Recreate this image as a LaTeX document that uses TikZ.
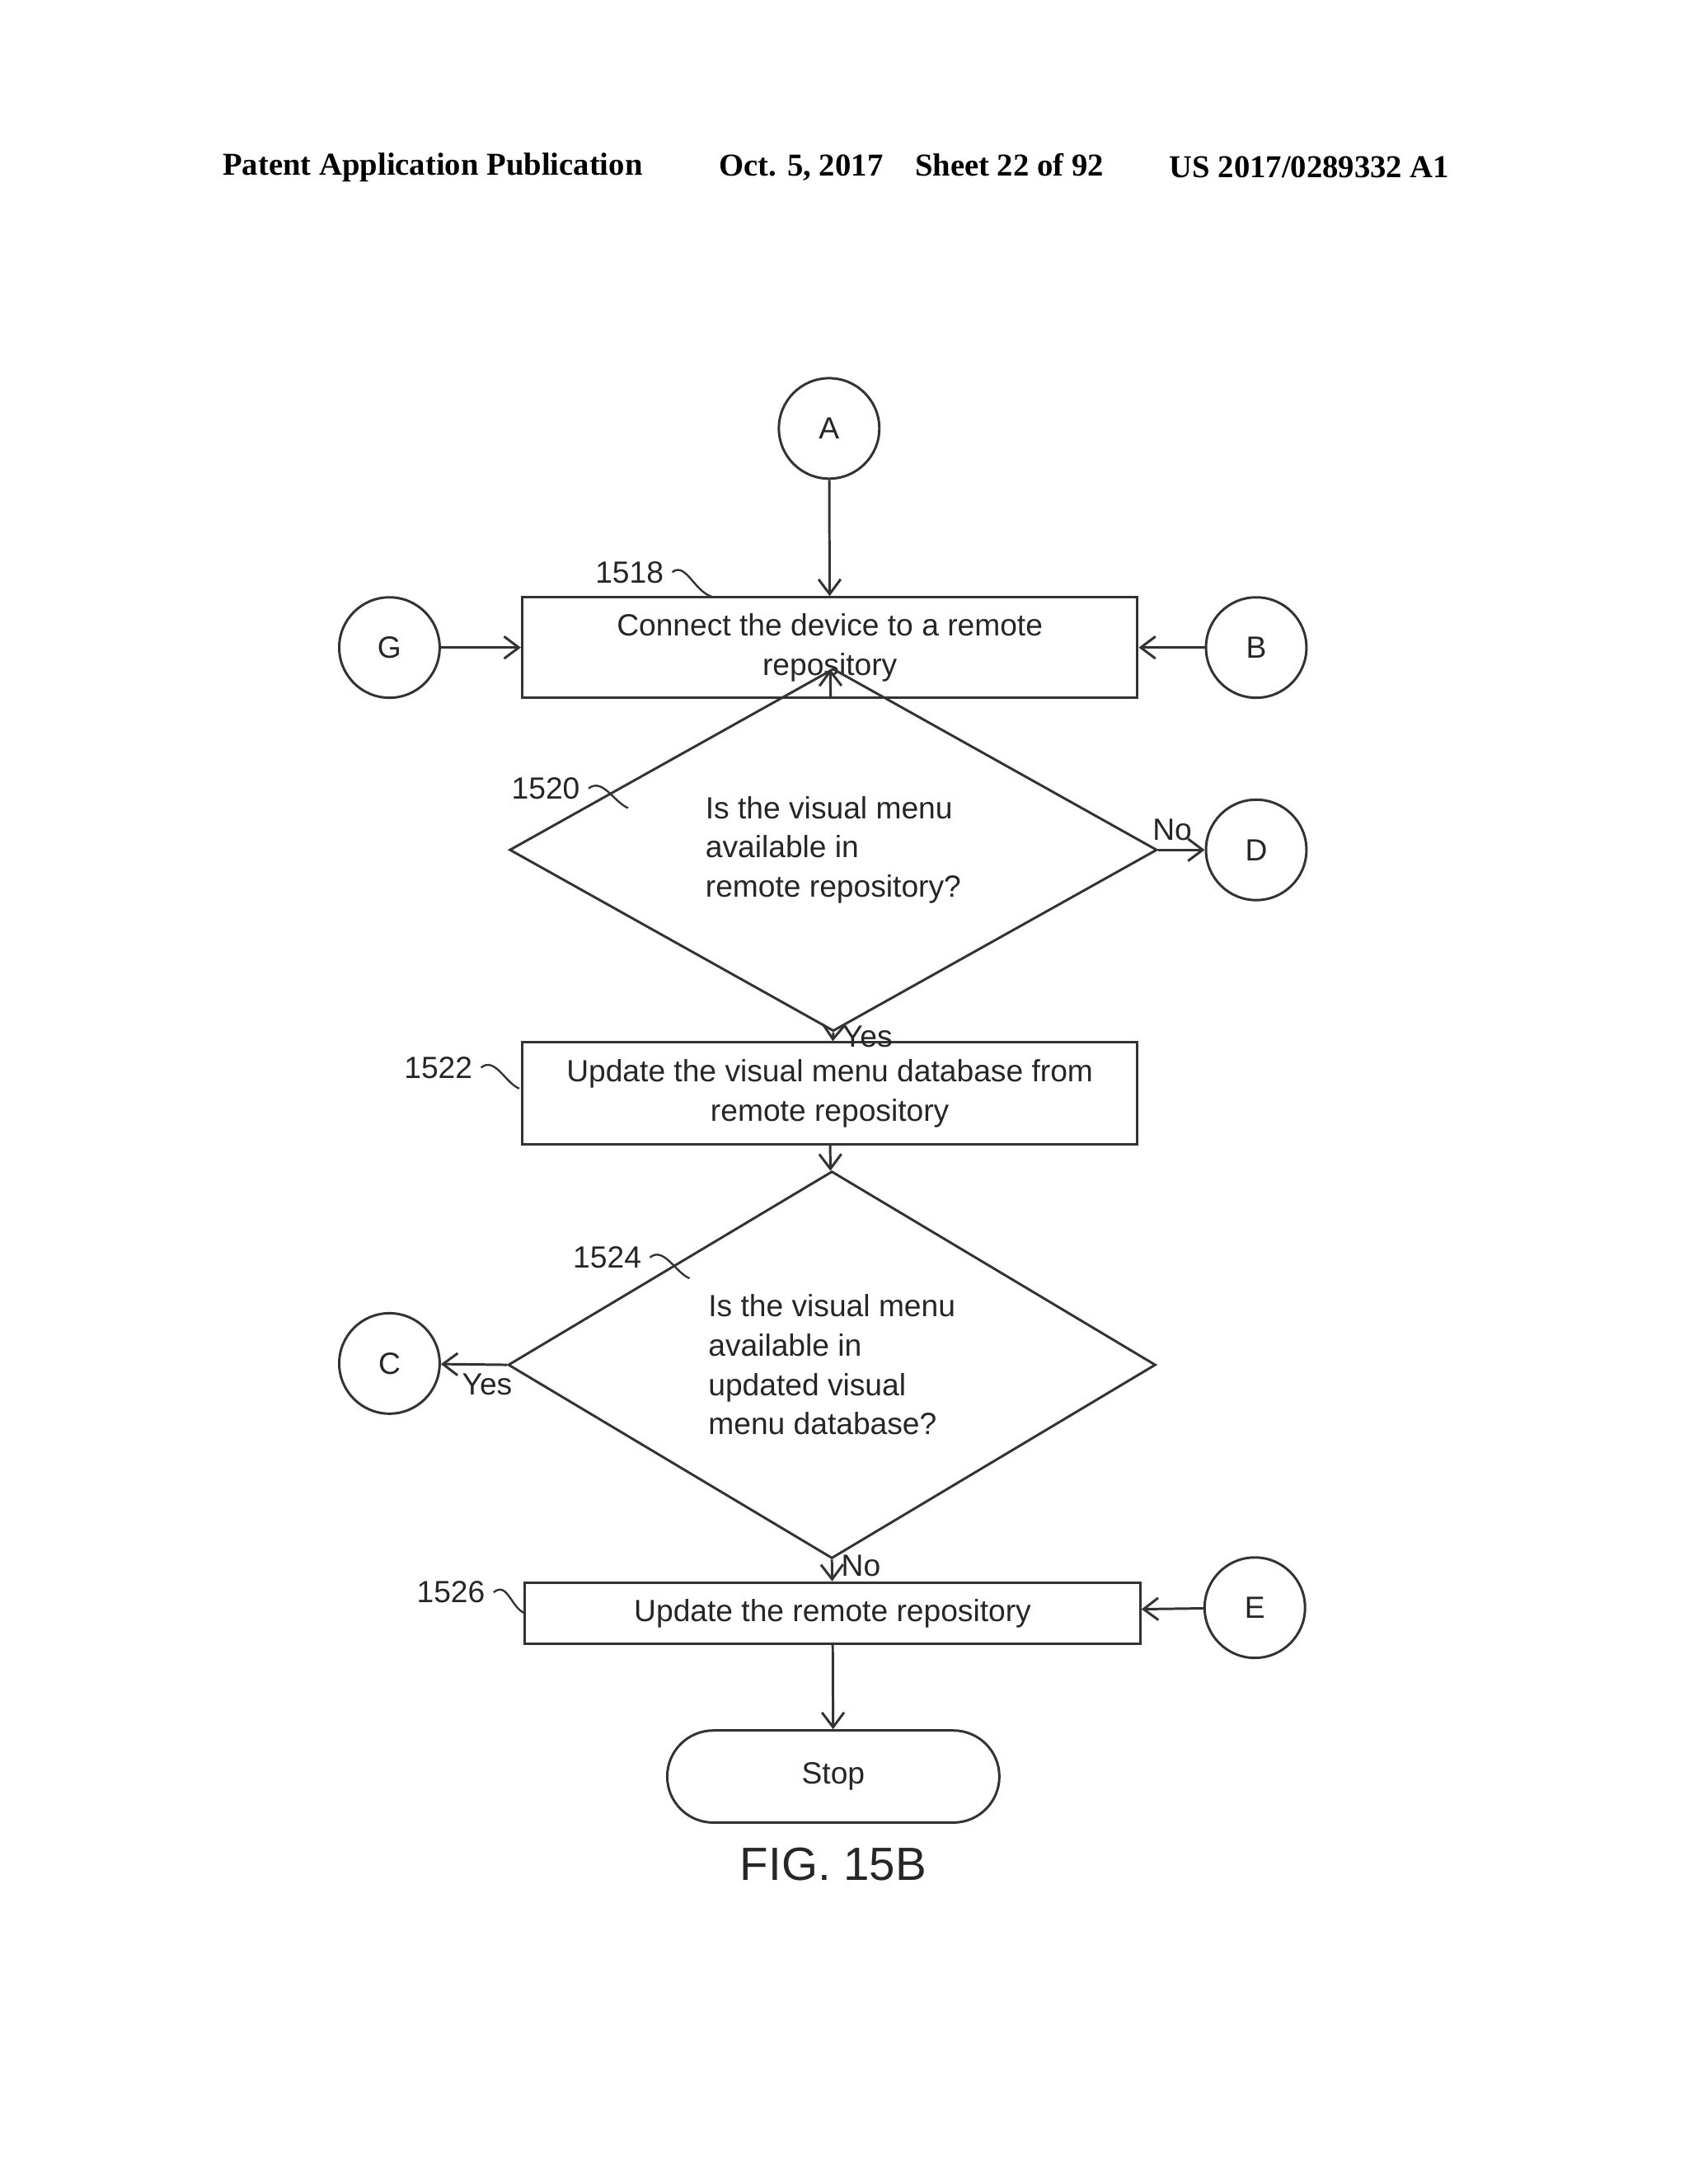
\documentclass[tikz,border=0pt]{standalone}
\usepackage{fontspec}
\setmainfont{Liberation Sans}
\newfontfamily\hdr{Liberation Serif}
\usetikzlibrary{shapes.geometric,arrows.meta}
\begin{document}
\begin{tikzpicture}[x=0.02cm,y=-0.02cm,
  every node/.style={font=\fontsize{12.5}{16}\selectfont, text=black!85},
  conn/.style={circle, draw=black!80, line width=1pt, minimum size=1.44cm, inner sep=0pt},
  box/.style={rectangle, draw=black!80, line width=1pt, minimum width=8.82cm, align=center, inner sep=0pt},
  dec/.style={diamond, draw=black!80, line width=1pt, align=left, inner sep=0pt},
  arr/.style={draw=black!80, line width=1pt, -{Straight Barb[length=6pt,width=9pt]}},
  tag/.style={draw=black!80, line width=0.8pt},
  lbl/.style={font=\fontsize{12.5}{14}\selectfont}]
\useasboundingbox (0,0) rectangle (1210,1565);
% header
\node[font=\hdr\bfseries\fontsize{13}{15}\selectfont, text=black] (h1) at (310,120) {Patent Application Publication};
\node[font=\hdr\bfseries\fontsize{13}{15}\selectfont, text=black] (h2) at (653,120) {Oct. 5, 2017\quad Sheet 22 of 92};
\node[font=\hdr\bfseries\fontsize{13}{15}\selectfont, text=black] (h3) at (938,120) {US 2017/0289332 A1};
% nodes
\node[conn] (A) at (594,307) {A};
\node[box, minimum height=1.44cm] (b1518) at (594.5,464) {Connect the device to a remote\\repository};
\node[conn] (G) at (279,464) {G};
\node[conn] (B) at (900,464) {B};
\node[dec, minimum width=9.28cm, minimum height=3.24cm] (d1520) at (597,609) {Is the visual menu\\available in\\remote repository?};
\node[conn] (D) at (900,609) {D};
\node[box, minimum height=1.46cm] (b1522) at (594.5,783.5) {Update the visual menu database from\\remote repository};
\node[dec, minimum width=9.28cm, minimum height=4.4cm] (d1524) at (596,978) {Is the visual menu\\available in\\updated visual\\menu database?};
\node[conn] (C) at (279,977) {C};
\node[box, minimum height=0.88cm] (b1526) at (596.5,1156) {Update the remote repository};
\node[conn] (E) at (899,1152) {E};
\node[rectangle, draw=black!80, line width=1pt, rounded corners=0.66cm, minimum width=4.76cm, minimum height=1.32cm] (stop) at (597,1273) {Stop};
\node[font=\fontsize{19}{22}\selectfont] (fig) at (597,1336) {FIG. 15B};
% connectors
\draw[arr] (A) -- (b1518);
\draw[arr] (G) -- (b1518);
\draw[arr] (B) -- (b1518);
\draw[arr] (b1518) -- (d1520);
\draw[arr] (d1520.east) -- node[above, pos=0.3] {No} (D);
\draw[arr] (d1520.south) -- node[right, pos=0.45] {Yes} (b1522);
\draw[arr] (b1522) -- (d1524);
\draw[arr] (d1524.west) -- node[below, pos=0.3] {Yes} (C);
\draw[arr] (d1524.south) -- node[right, pos=0.3] {No} (b1526);
\draw[arr] (E) -- (b1526);
\draw[arr] (b1526) -- (stop);
% reference numerals
\node[lbl] (n1518) at (451,410) {1518};
\coordinate (t1518) at (512,428);
\draw[tag] (n1518.east) .. controls +(10,-8) and +(-14,-2) .. (t1518);
\node[lbl] (n1520) at (391,565) {1520};
\coordinate (t1520) at (450,579);
\draw[tag] (n1520.east) .. controls +(10,-8) and +(-10,-4) .. (t1520);
\node[lbl] (n1522) at (314,765) {1522};
\coordinate (t1522) at (372,780);
\draw[tag] (n1522.east) .. controls +(10,-8) and +(-10,-4) .. (t1522);
\node[lbl] (n1524) at (435,901) {1524};
\coordinate (t1524) at (494,916);
\draw[tag] (n1524.east) .. controls +(10,-8) and +(-10,-4) .. (t1524);
\node[lbl] (n1526) at (323,1141) {1526};
\coordinate (t1526) at (376,1156);
\draw[tag] (n1526.east) .. controls +(10,-8) and +(-10,-4) .. (t1526);
\end{tikzpicture}
\end{document}
